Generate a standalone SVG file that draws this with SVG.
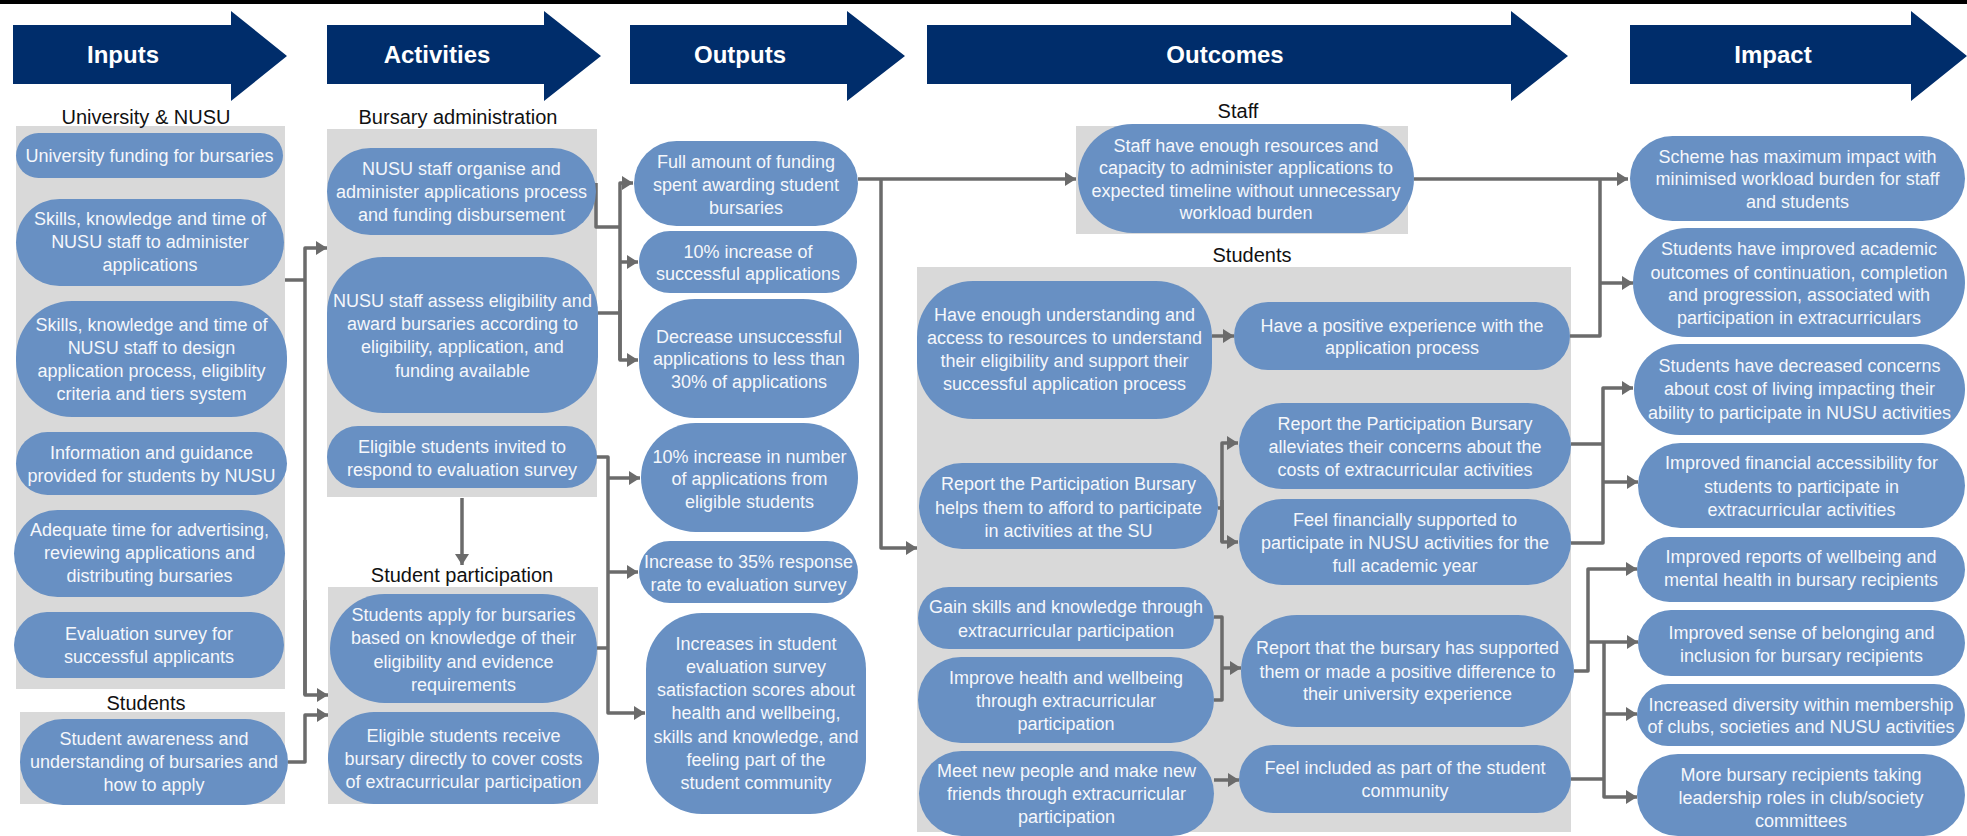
<svg xmlns="http://www.w3.org/2000/svg" width="1967" height="836" viewBox="0 0 1967 836">
<style>
.hdr{fill:#002d6b}
.ht{font-family:'Liberation Sans',Arial,sans-serif;font-weight:bold;font-size:24px;fill:#ffffff;text-anchor:middle}
.panel{fill:#d9d9d9}
.pill{fill:#6890c3}
.t{font-family:'Liberation Sans',Arial,sans-serif;font-size:18px;fill:#f5f7fb;text-anchor:middle}
.lbl{font-family:'Liberation Sans',Arial,sans-serif;font-size:20px;fill:#111111;text-anchor:middle}
.c{fill:none;stroke:#6b6b6b;stroke-width:3.5;stroke-linejoin:round}
.a{marker-end:url(#ah)}
</style>
<defs>
<marker id="ah" markerUnits="userSpaceOnUse" markerWidth="12" markerHeight="14" refX="11" refY="7" orient="auto"><path d="M0,0 L11,7 L0,14 z" fill="#6b6b6b"/></marker>
</defs>
<rect x="0" y="0" width="1967" height="836" fill="#ffffff"/>
<rect x="0" y="0" width="1967" height="4" fill="#000000"/>

<g id="headers">
<g id="h-inputs"><polygon class="hdr" points="13,25 231,25 231,11 287,56 231,101 231,84 13,84"/><text class="ht" x="123" y="63">Inputs</text></g>
<g id="h-activities"><polygon class="hdr" points="327,25 544,25 544,11 601,56 544,101 544,84 327,84"/><text class="ht" x="437" y="63">Activities</text></g>
<g id="h-outputs"><polygon class="hdr" points="630,25 847,25 847,11 905,56 847,101 847,84 630,84"/><text class="ht" x="740" y="63">Outputs</text></g>
<g id="h-outcomes"><polygon class="hdr" points="927,25 1511,25 1511,11 1568,56 1511,101 1511,84 927,84"/><text class="ht" x="1225" y="63">Outcomes</text></g>
<g id="h-impact"><polygon class="hdr" points="1630,25 1911,25 1911,11 1967,56 1911,101 1911,84 1630,84"/><text class="ht" x="1773" y="63">Impact</text></g>
</g>

<g id="panels">
<rect class="panel" x="16" y="126" width="269" height="563"/>
<rect class="panel" x="20" y="712" width="265" height="92"/>
<rect class="panel" x="327" y="129" width="270" height="368"/>
<rect class="panel" x="328" y="587" width="270" height="217"/>
<rect class="panel" x="1076" y="126" width="332" height="108"/>
<rect class="panel" x="917" y="267" width="654" height="565"/>
</g>

<g id="labels">
<text class="lbl" x="146" y="124">University &amp; NUSU</text>
<text class="lbl" x="458" y="124">Bursary administration</text>
<text class="lbl" x="146" y="710">Students</text>
<text class="lbl" x="462" y="582">Student participation</text>
<text class="lbl" x="1238" y="118">Staff</text>
<text class="lbl" x="1252" y="262">Students</text>
</g>

<g id="connectors">
<path class="c" d="M285,280 H305"/>
<path class="c a" d="M305,695 V248 H327"/>
<path class="c a" d="M305,600 V695 H328"/>
<path class="c a" d="M288,762 H305 V715 H328"/>
<path class="c" d="M596,183 V227 H620"/>
<path class="c" d="M598,313 H620"/>
<path class="c a" d="M620,360 V183 H633"/>
<path class="c a" d="M620,262 H638"/>
<path class="c a" d="M620,300 V360 H638"/>
<path class="c a" d="M596,457 H608 V713 H645"/>
<path class="c a" d="M608,478 H640"/>
<path class="c a" d="M608,572 H638"/>
<path class="c" d="M597,648 H608"/>
<path class="c a" d="M462,498 V565"/>
<path class="c a" d="M858,179 H1076"/>
<path class="c a" d="M881,179 V548 H917"/>
<path class="c a" d="M1414,179 H1628"/>
<path class="c" d="M1570,336 H1600 V179"/>
<path class="c a" d="M1600,283 H1633"/>
<path class="c a" d="M1212,336 H1234"/>
<path class="c" d="M1218,508 H1222"/>
<path class="c a" d="M1222,542 V443 H1238"/>
<path class="c a" d="M1222,500 V542 H1238"/>
<path class="c" d="M1214,617 H1222 V700 H1214"/>
<path class="c a" d="M1222,668 H1241"/>
<path class="c a" d="M1214,780 H1239"/>
<path class="c" d="M1571,444 H1603"/>
<path class="c a" d="M1571,543 H1603 V388 H1633"/>
<path class="c a" d="M1603,482 H1638"/>
<path class="c a" d="M1574,671 H1588 V569 H1637"/>
<path class="c a" d="M1588,642 H1638"/>
<path class="c a" d="M1604,642 V797 H1637"/>
<path class="c a" d="M1604,714 H1637"/>
<path class="c" d="M1571,779 H1604"/>
</g>

<g id="i1"><rect class="pill" x="16" y="133" width="267" height="45" rx="22.5"/><text class="t"><tspan x="149.5" y="161.5">University funding for bursaries</tspan></text></g>
<g id="i2"><rect class="pill" x="16" y="199" width="268" height="87" rx="43.5"/><text class="t"><tspan x="150" y="225">Skills, knowledge and time of</tspan><tspan x="150" y="248">NUSU staff to administer</tspan><tspan x="150" y="271">applications</tspan></text></g>
<g id="i3"><rect class="pill" x="16" y="301" width="271" height="116" rx="56"/><text class="t"><tspan x="151.5" y="331">Skills, knowledge and time of</tspan><tspan x="151.5" y="354">NUSU staff to design</tspan><tspan x="151.5" y="377">application process, eligiblity</tspan><tspan x="151.5" y="400">criteria and tiers system</tspan></text></g>
<g id="i4"><rect class="pill" x="16" y="432" width="271" height="63" rx="31.5"/><text class="t"><tspan x="151.5" y="459">Information and guidance</tspan><tspan x="151.5" y="482">provided for students by NUSU</tspan></text></g>
<g id="i5"><rect class="pill" x="14" y="510" width="271" height="87" rx="43.5"/><text class="t"><tspan x="149.5" y="536">Adequate time for advertising,</tspan><tspan x="149.5" y="559">reviewing applications and</tspan><tspan x="149.5" y="582">distributing bursaries</tspan></text></g>
<g id="i6"><rect class="pill" x="14" y="612" width="270" height="66" rx="33"/><text class="t"><tspan x="149" y="640">Evaluation survey for</tspan><tspan x="149" y="663">successful applicants</tspan></text></g>
<g id="i7"><rect class="pill" x="20" y="719" width="268" height="86" rx="43"/><text class="t"><tspan x="154" y="745">Student awareness and</tspan><tspan x="154" y="768">understanding of bursaries and</tspan><tspan x="154" y="791">how to apply</tspan></text></g>

<g id="a1"><rect class="pill" x="327" y="148" width="269" height="87" rx="43.5"/><text class="t"><tspan x="461.5" y="175">NUSU staff organise and</tspan><tspan x="461.5" y="198">administer applications process</tspan><tspan x="461.5" y="221">and funding disbursement</tspan></text></g>
<g id="a2"><rect class="pill" x="327" y="257" width="271" height="156" rx="56"/><text class="t"><tspan x="462.5" y="307">NUSU staff assess eligibility and</tspan><tspan x="462.5" y="330">award bursaries according to</tspan><tspan x="462.5" y="353">eligibility, application,  and</tspan><tspan x="462.5" y="377">funding available</tspan></text></g>
<g id="a3"><rect class="pill" x="327" y="426" width="270" height="62" rx="31"/><text class="t"><tspan x="462" y="453">Eligible students invited to</tspan><tspan x="462" y="476">respond to evaluation survey</tspan></text></g>
<g id="a4"><rect class="pill" x="330" y="594" width="267" height="109" rx="54.5"/><text class="t"><tspan x="463.5" y="621">Students apply for bursaries</tspan><tspan x="463.5" y="644">based on knowledge of their</tspan><tspan x="463.5" y="668">eligibility and evidence</tspan><tspan x="463.5" y="691">requirements</tspan></text></g>
<g id="a5"><rect class="pill" x="328" y="712" width="271" height="92" rx="46"/><text class="t"><tspan x="463.5" y="742">Eligible students receive</tspan><tspan x="463.5" y="765">bursary directly to cover costs</tspan><tspan x="463.5" y="788">of extracurricular participation</tspan></text></g>

<g id="o1"><rect class="pill" x="634" y="141" width="224" height="85" rx="42.5"/><text class="t"><tspan x="746" y="168">Full amount of funding</tspan><tspan x="746" y="191">spent awarding student</tspan><tspan x="746" y="214">bursaries</tspan></text></g>
<g id="o2"><rect class="pill" x="639" y="231" width="218" height="62" rx="31"/><text class="t"><tspan x="748" y="258">10% increase of</tspan><tspan x="748" y="280">successful applications</tspan></text></g>
<g id="o3"><rect class="pill" x="639" y="299" width="220" height="119" rx="56"/><text class="t"><tspan x="749" y="343">Decrease unsuccessful</tspan><tspan x="749" y="365">applications to less than</tspan><tspan x="749" y="388">30% of applications</tspan></text></g>
<g id="o4"><rect class="pill" x="641" y="423" width="217" height="109" rx="54.5"/><text class="t"><tspan x="749.5" y="463">10% increase in number</tspan><tspan x="749.5" y="485">of applications from</tspan><tspan x="749.5" y="508">eligible students</tspan></text></g>
<g id="o5"><rect class="pill" x="639" y="541" width="219" height="62" rx="31"/><text class="t"><tspan x="748.5" y="568">Increase to 35% response</tspan><tspan x="748.5" y="591">rate to evaluation survey</tspan></text></g>
<g id="o6"><rect class="pill" x="646" y="613" width="220" height="201" rx="56"/><text class="t"><tspan x="756" y="650">Increases in student</tspan><tspan x="756" y="673">evaluation survey</tspan><tspan x="756" y="696">satisfaction scores about</tspan><tspan x="756" y="719">health and wellbeing,</tspan><tspan x="756" y="743">skills and knowledge, and</tspan><tspan x="756" y="766">feeling part of the</tspan><tspan x="756" y="789">student community</tspan></text></g>

<g id="s1"><rect class="pill" x="1078" y="124" width="336" height="109" rx="54.5"/><text class="t"><tspan x="1246" y="152">Staff have enough resources and</tspan><tspan x="1246" y="174">capacity to administer applications to</tspan><tspan x="1246" y="197">expected timeline without unnecessary</tspan><tspan x="1246" y="219">workload burden</tspan></text></g>

<g id="so1"><rect class="pill" x="917" y="281" width="295" height="138" rx="56"/><text class="t"><tspan x="1064.5" y="321">Have enough understanding and</tspan><tspan x="1064.5" y="344">access to resources to understand</tspan><tspan x="1064.5" y="367">their eligibility and support their</tspan><tspan x="1064.5" y="390">successful application process</tspan></text></g>
<g id="so2"><rect class="pill" x="1234" y="302" width="336" height="68" rx="34"/><text class="t"><tspan x="1402" y="332">Have a positive experience with the</tspan><tspan x="1402" y="354">application process</tspan></text></g>
<g id="so3"><rect class="pill" x="919" y="463" width="299" height="86" rx="43"/><text class="t"><tspan x="1068.5" y="490">Report the Participation Bursary</tspan><tspan x="1068.5" y="514">helps them to afford to participate</tspan><tspan x="1068.5" y="537">in activities at the SU</tspan></text></g>
<g id="so4"><rect class="pill" x="1239" y="403" width="332" height="86" rx="43"/><text class="t"><tspan x="1405" y="430">Report the Participation Bursary</tspan><tspan x="1405" y="453">alleviates their concerns about the</tspan><tspan x="1405" y="476">costs of extracurricular activities</tspan></text></g>
<g id="so5"><rect class="pill" x="1239" y="499" width="332" height="86" rx="43"/><text class="t"><tspan x="1405" y="526">Feel financially supported to</tspan><tspan x="1405" y="549">participate in NUSU activities for the</tspan><tspan x="1405" y="572">full academic year</tspan></text></g>
<g id="so6"><rect class="pill" x="918" y="587" width="296" height="62" rx="31"/><text class="t"><tspan x="1066" y="613">Gain skills and knowledge through</tspan><tspan x="1066" y="637">extracurricular participation</tspan></text></g>
<g id="so7"><rect class="pill" x="918" y="657" width="296" height="86" rx="43"/><text class="t"><tspan x="1066" y="684">Improve health and wellbeing</tspan><tspan x="1066" y="707">through extracurricular</tspan><tspan x="1066" y="730">participation</tspan></text></g>
<g id="so8"><rect class="pill" x="1241" y="615" width="333" height="112" rx="56"/><text class="t"><tspan x="1407.5" y="654">Report that the bursary has supported</tspan><tspan x="1407.5" y="678">them or made a positive difference to</tspan><tspan x="1407.5" y="700">their university experience</tspan></text></g>
<g id="so9"><rect class="pill" x="919" y="751" width="295" height="85" rx="42.5"/><text class="t"><tspan x="1066.5" y="777">Meet new people and make new</tspan><tspan x="1066.5" y="800">friends through extracurricular</tspan><tspan x="1066.5" y="823">participation</tspan></text></g>
<g id="so10"><rect class="pill" x="1239" y="745" width="332" height="68" rx="34"/><text class="t"><tspan x="1405" y="774">Feel included as part of the student</tspan><tspan x="1405" y="797">community</tspan></text></g>

<g id="im1"><rect class="pill" x="1630" y="136" width="335" height="85" rx="42.5"/><text class="t"><tspan x="1797.5" y="163">Scheme has maximum impact with</tspan><tspan x="1797.5" y="185">minimised workload burden for staff</tspan><tspan x="1797.5" y="208">and students</tspan></text></g>
<g id="im2"><rect class="pill" x="1633" y="228" width="332" height="109" rx="54.5"/><text class="t"><tspan x="1799" y="255">Students have improved academic</tspan><tspan x="1799" y="279">outcomes of continuation, completion</tspan><tspan x="1799" y="301">and progression, associated with</tspan><tspan x="1799" y="324">participation in extracurriculars</tspan></text></g>
<g id="im3"><rect class="pill" x="1634" y="344" width="331" height="91" rx="45.5"/><text class="t"><tspan x="1799.5" y="372">Students have decreased concerns</tspan><tspan x="1799.5" y="395">about cost of living impacting their</tspan><tspan x="1799.5" y="419">ability to participate in NUSU activities</tspan></text></g>
<g id="im4"><rect class="pill" x="1638" y="443" width="327" height="85" rx="42.5"/><text class="t"><tspan x="1801.5" y="469">Improved financial accessibility for</tspan><tspan x="1801.5" y="493">students to participate in</tspan><tspan x="1801.5" y="516">extracurricular activities</tspan></text></g>
<g id="im5"><rect class="pill" x="1637" y="537" width="328" height="65" rx="32.5"/><text class="t"><tspan x="1801" y="563">Improved reports of wellbeing and</tspan><tspan x="1801" y="586">mental health in bursary recipients</tspan></text></g>
<g id="im6"><rect class="pill" x="1638" y="610" width="327" height="66" rx="33"/><text class="t"><tspan x="1801.5" y="639">Improved sense of belonging and</tspan><tspan x="1801.5" y="662">inclusion for bursary recipients</tspan></text></g>
<g id="im7"><rect class="pill" x="1637" y="684" width="328" height="62" rx="31"/><text class="t"><tspan x="1801" y="711">Increased diversity within membership</tspan><tspan x="1801" y="733">of clubs, societies and NUSU activities</tspan></text></g>
<g id="im8"><rect class="pill" x="1637" y="754" width="328" height="82" rx="41"/><text class="t"><tspan x="1801" y="781">More bursary recipients taking</tspan><tspan x="1801" y="804">leadership roles in club/society</tspan><tspan x="1801" y="827">committees</tspan></text></g>
</svg>
